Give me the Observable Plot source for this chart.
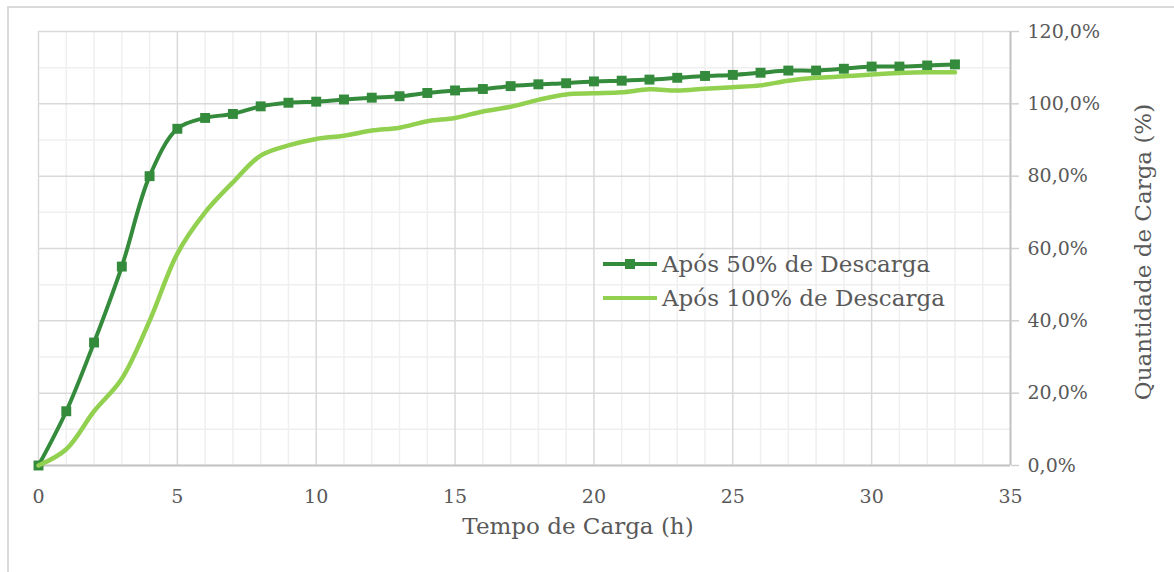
<!DOCTYPE html>
<html>
<head>
<meta charset="utf-8">
<script src="https://cdn.jsdelivr.net/npm/d3@7"></script>
<script src="https://cdn.jsdelivr.net/npm/@observablehq/plot@0.6"></script>
<style>
  html, body { margin: 0; padding: 0; background: #fff; overflow: hidden; }
  #wrap { position: relative; width: 1174px; height: 572px; font-family: "DejaVu Serif", serif; color: #595959; }
  #frame { position: absolute; left: 7px; top: 6px; width: 1300px; height: 700px; border: 2px solid #d9d9d9; box-sizing: border-box; }
  #chart { position: absolute; left: 0; top: 0; }
  #chart svg text { fill: #595959; }
  .title { position: absolute; font-size: 23px; white-space: nowrap; transform: translate(-50%, -50%); }
  #ytitle { transform: translate(-50%, -50%) rotate(-90deg); }
  .leg { position: absolute; left: 603px; height: 30px; display: flex; align-items: center; font-size: 23px; white-space: nowrap; background: transparent; }
  .leg .sw { position: relative; width: 54px; height: 30px; margin-right: 5px; }
  .leg .ln { position: absolute; left: 0; right: 0; top: 13px; height: 4px; }
  .leg .mk { position: absolute; left: 22px; top: 10px; width: 10px; height: 10px; }
</style>
</head>
<body>
<div id="wrap">
  <div id="frame"></div>
  <div id="chart"></div>
  <div class="leg" id="leg1" style="top:249px"><div class="sw"><div class="ln" style="background:#358b3c"></div><div class="mk" style="background:#358b3c"></div></div><span>Após 50% de Descarga</span></div>
  <div class="leg" id="leg2" style="top:283px"><div class="sw"><div class="ln" style="background:#92d050"></div></div><span>Após 100% de Descarga</span></div>
  <div class="title" id="xtitle" style="left:578px; top:526px">Tempo de Carga (h)</div>
  <div class="title" id="ytitle" style="left:1143px; top:252px">Quantidade de Carga (%)</div>
</div>
<script>
// Charging time (h)
const hours = [0,1,2,3,4,5,6,7,8,9,10,11,12,13,14,15,16,17,18,19,20,21,22,23,24,25,26,27,28,29,30,31,32,33];
// Após 50% de Descarga (%)
const after50 = [0,15,34,55,80,93.1,96.1,97.2,99.3,100.3,100.6,101.2,101.7,102.1,103,103.7,104.1,104.9,105.4,105.7,106.2,106.4,106.7,107.2,107.7,108,108.6,109.2,109.2,109.7,110.3,110.3,110.6,110.9];
// Após 100% de Descarga (%)
const after100 = [0,4.5,15,24,40,58.6,70,78.3,85.7,88.5,90.3,91.2,92.6,93.4,95.2,96.1,97.9,99.2,101.1,102.6,102.9,103.2,104,103.7,104.2,104.6,105.1,106.4,107.2,107.6,108.1,108.5,108.7,108.7];

const xMajorTicks = [0,5,10,15,20,25,30,35];
const xMinorTicks = [1,2,3,4,6,7,8,9,11,12,13,14,16,17,18,19,21,22,23,24,26,27,28,29,31,32,33,34];
const yMajorTicks = [0,20,40,60,80,100,120];
const yMinorTicks = [10,30,50,70,90,110];

const s50 = hours.map((h, i) => ({h, v: after50[i]}));
const s100 = hours.map((h, i) => ({h, v: after100[i]}));

const dark = "#358b3c";
const light = "#92d050";
const fmt = d => d3.format(".1f")(d).replace(".", ",") + "%";

const chart = Plot.plot({
  width: 1174,
  height: 572,
  marginLeft: 38,
  marginRight: 164,
  marginTop: 31,
  marginBottom: 107,
  style: { fontFamily: "DejaVu Serif, serif", fontSize: "19px", background: "transparent", overflow: "visible" },
  x: { domain: [0, 35] },
  y: { domain: [0, 120] },
  marks: [
    Plot.ruleX(xMinorTicks, { stroke: "#efefef", strokeWidth: 1.5 }),
    Plot.ruleY(yMinorTicks, { stroke: "#efefef", strokeWidth: 1.5 }),
    Plot.ruleX(xMajorTicks, { stroke: "#d9d9d9", strokeWidth: 1.5 }),
    Plot.ruleY(yMajorTicks, { stroke: "#d9d9d9", strokeWidth: 1.5 }),
    Plot.ruleY([0], { stroke: "#c4c4c4", strokeWidth: 2 }),
    Plot.ruleX([35], { stroke: "#c4c4c4", strokeWidth: 2 }),
    Plot.axisY({ anchor: "right", ticks: yMajorTicks, tickSize: 8, tickPadding: 9, tickFormat: fmt, stroke: "#d0d0d0", strokeWidth: 1.5, label: null }),
    Plot.axisX({ anchor: "bottom", ticks: xMajorTicks, tickSize: 0, tickPadding: 24, tickFormat: d => String(d), label: null }),
    Plot.line(s50, { x: "h", y: "v", curve: "catmull-rom", stroke: dark, strokeWidth: 4 }),
    Plot.dot(s50, { x: "h", y: "v", symbol: "square", r: 5.6, fill: dark, stroke: "none" }),
    Plot.line(s100, { x: "h", y: "v", curve: "catmull-rom", stroke: light, strokeWidth: 4.5 })
  ]
});
document.getElementById("chart").appendChild(chart);
</script>
</body>
</html>
